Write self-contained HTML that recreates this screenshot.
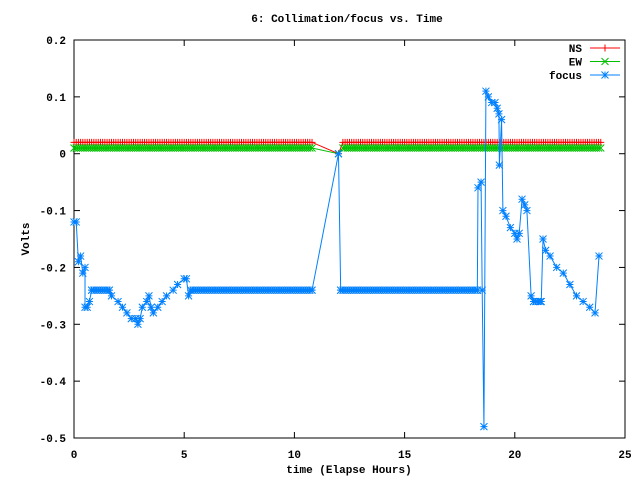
<!DOCTYPE html>
<html><head><meta charset="utf-8"><style>
body{margin:0;background:#fff}
svg{display:block;font-family:"Liberation Mono",monospace;font-size:11px;font-weight:bold}
</style></head><body>
<svg id="c" width="640" height="480" xmlns="http://www.w3.org/2000/svg">
<rect width="640" height="480" fill="#fff"/>
<text x="347" y="22" text-anchor="middle">6: Collimation/focus vs. Time</text>
<text x="349" y="473" text-anchor="middle">time (Elapse Hours)</text>
<text transform="translate(29,239) rotate(-90)" text-anchor="middle">Volts</text>
<g id="axes"></g><g id="plot"></g><g id="legend"></g>
</svg>
<script>
const xTicks=[0,5,10,15,20,25];
const yTicks=[0.2,0.1,0,-0.1,-0.2,-0.3,-0.4,-0.5];
const yTickLabels=["0.2","0.1","0","-0.1","-0.2","-0.3","-0.4","-0.5"];
// runs: [start, end, value] sampled every 0.1 h
const nsRuns=[[0,10.8,0.02],[12,12,0],[12.2,23.9,0.02]];
const ewRuns=[[0,10.8,0.01],[12,12,0],[12.2,23.9,0.01]];
const focusT=[0,0.1,0.2,0.3,0.4,0.5,0.5,0.6,0.7,0.8,1.6,1.7,2.0,2.2,2.4,2.6,2.8,2.9,3.0,3.1,3.3,3.4,3.5,3.6,3.8,4.0,4.2,4.5,4.7,5.0,5.1,5.2,5.3,10.8,12.0,12.1,18.3,18.33,18.47,18.52,18.6,18.69,18.8,18.95,19.1,19.2,19.28,19.3,19.4,19.46,19.6,19.8,20.0,20.1,20.2,20.33,20.45,20.55,20.74,20.85,21.2,21.28,21.4,21.6,21.9,22.2,22.5,22.8,23.1,23.4,23.64,23.82];
const focusV=[-0.12,-0.12,-0.19,-0.18,-0.21,-0.20,-0.27,-0.27,-0.26,-0.24,-0.24,-0.25,-0.26,-0.27,-0.28,-0.29,-0.29,-0.30,-0.29,-0.27,-0.26,-0.25,-0.27,-0.28,-0.27,-0.26,-0.25,-0.24,-0.23,-0.22,-0.22,-0.25,-0.24,-0.24,0.0,-0.24,-0.24,-0.06,-0.05,-0.24,-0.48,0.11,0.10,0.09,0.09,0.08,0.07,-0.02,0.06,-0.10,-0.11,-0.13,-0.14,-0.15,-0.14,-0.08,-0.09,-0.10,-0.25,-0.26,-0.26,-0.15,-0.17,-0.18,-0.20,-0.21,-0.23,-0.25,-0.26,-0.27,-0.28,-0.18];
const focusFlat=[[0.8,1.6,-0.24],[5.3,10.8,-0.24],[12.1,18.3,-0.24],[20.85,21.2,-0.26]];

const L=74,R=625,T=40,B=438;
const sx=t=>L+(t-0)/(25-0)*(R-L);
const sy=v=>T+(0.2-v)/(0.7)*(B-T);
const NS="http://www.w3.org/2000/svg";
function mk(tag,attrs,parent){const e=document.createElementNS(NS,tag);for(const k in attrs)e.setAttribute(k,attrs[k]);parent.appendChild(e);return e;}
const axes=document.getElementById('axes'),plot=document.getElementById('plot'),leg=document.getElementById('legend');
let fr=mk('rect',{x:L,y:T,width:R-L,height:B-T,fill:'none',stroke:'#000','stroke-width':1},axes);


xTicks.forEach(t=>{const x=sx(t);
 mk('line',{x1:x,y1:B,x2:x,y2:B-6,stroke:'#000'},axes);
 mk('line',{x1:x,y1:T,x2:x,y2:T+6,stroke:'#000'},axes);
 const tx=mk('text',{x:x,y:B+20,'text-anchor':'middle'},axes);tx.textContent=t;
 
 });
yTicks.forEach((v,i)=>{const y=sy(v);
 mk('line',{x1:L,y1:y,x2:L+6,y2:y,stroke:'#000'},axes);
 mk('line',{x1:R,y1:y,x2:R-6,y2:y,stroke:'#000'},axes);
 const tx=mk('text',{x:L-8,y:y+4,'text-anchor':'end'},axes);tx.textContent=yTickLabels[i];
 
 });
function expand(runs){const t=[],v=[];runs.forEach(r=>{for(let x=r[0];x<=r[1]+1e-9;x+=0.1){t.push(x);v.push(r[2]);}});return [t,v];}
function marker(type,x,y,col,g){const s=3.5;let d='';
 if(type!=='x')d+=`M${x-s},${y}H${x+s}M${x},${y-s}V${y+s}`;
 if(type!=='+')d+=`M${x-s},${y-s}L${x+s},${y+s}M${x-s},${y+s}L${x+s},${y-s}`;
 mk('path',{d:d,stroke:col,'stroke-width':1,fill:'none'},g);}
function series(name,ts,vs,mts,mvs,col,type){
 const g=mk('g',{},plot);
 
 
 mk('polyline',{points:ts.map((t,i)=>sx(t)+','+sy(vs[i])).join(' '),fill:'none',stroke:col,'stroke-width':1},g);
 mts.forEach((t,i)=>marker(type,sx(t),sy(mvs[i]),col,g));}
const [nt,nv]=expand(nsRuns),[et,ev]=expand(ewRuns);
series('ns',nt,nv,nt,nv,'#ff0000','+');
series('ew',et,ev,et,ev,'#00c000','x');
const [ft,fv]=expand(focusFlat);
series('focus',focusT,focusV,focusT.concat(ft),focusV.concat(fv),'#0080ff','*');
[['NS','#ff0000','+'],['EW','#00c000','x'],['focus','#0080ff','*']].forEach((e,i)=>{
 const y=48+i*13.5;const g=mk('g',{},leg);
 
 
 const tx=mk('text',{x:582,y:y+4,'text-anchor':'end'},g);tx.textContent=e[0];
 mk('line',{x1:590,y1:y,x2:620,y2:y,stroke:e[1]},g);
 marker(e[2],605,y,e[1],g);});
</script>
</body></html>
